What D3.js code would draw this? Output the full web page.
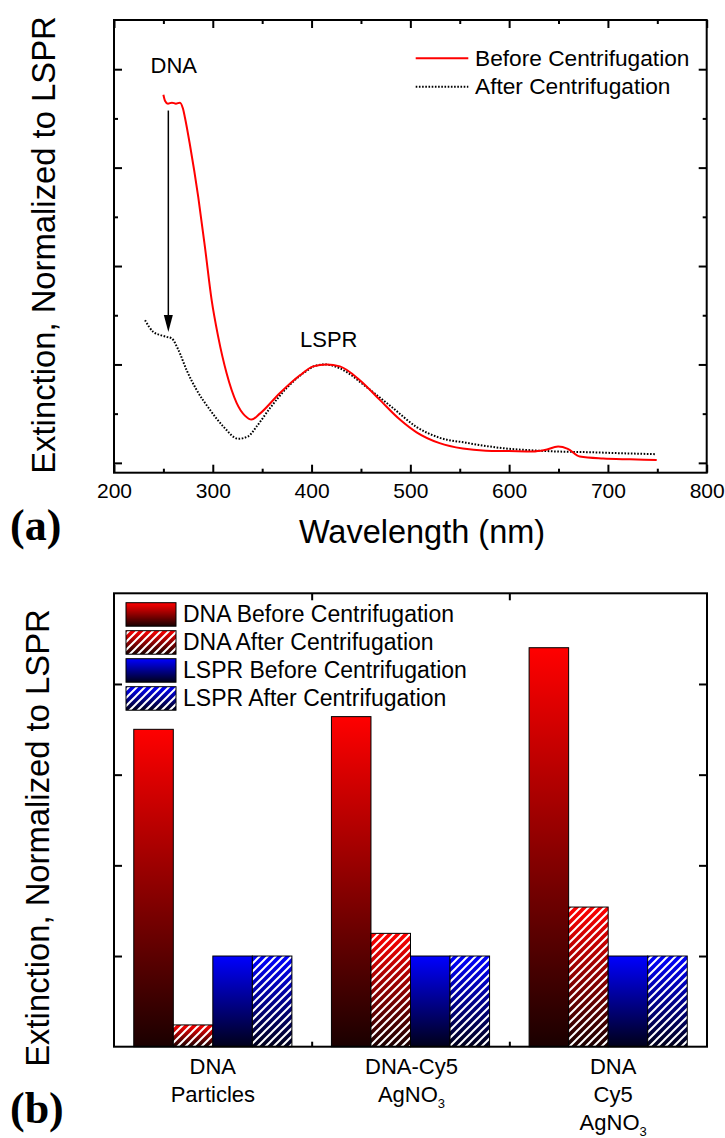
<!DOCTYPE html>
<html><head><meta charset="utf-8">
<script src="https://cdn.jsdelivr.net/npm/d3@7"></script>
<style>
body{margin:0;background:#fff}
svg{display:block}
text{font-family:"Liberation Sans",Arial,sans-serif;fill:#000}
</style>
</head><body>
<svg id="chart" width="725" height="1138"></svg>
<script>
// ---------- Panel (a) data ----------
const wavelengthMajorTicks = [200,300,400,500,600,700,800];
const wavelengthMinorTicks = [250,350,450,550,650,750];
const extinctionMajorTicks = [0,1,2,3,4];
const extinctionMinorTicks = [0.5,1.5,2.5,3.5];

const beforeNm  = [250,251.6,254.6,258.7,262.7,266.8,269.8,271.8,276.9,285.3,292.1,298.9,305.5,314.0,324.1,332.5,339.3,347.7,368.0,388.2,401.7,415.2,428.7,448.9,469.1,489.4,506.3,529.6,553.1,576.4,599.7,623.9,636.1,649.6,659.4,671.5,695.1,722.1,749.4];
const beforeExt = [3.74,3.68,3.65,3.66,3.65,3.66,3.60,3.51,3.23,2.70,2.19,1.65,1.28,0.91,0.61,0.48,0.44,0.50,0.71,0.89,0.98,1.00,0.98,0.84,0.64,0.44,0.31,0.20,0.145,0.124,0.120,0.115,0.130,0.165,0.142,0.064,0.044,0.036,0.030];

const afterNm  = [231.4,239.8,246.5,253.3,258.4,265.1,273.6,283.7,297.1,310.6,325.8,335.9,344.4,357.8,374.7,391.5,405.1,413.5,428.7,455.7,482.6,506.3,529.6,556,593.9,627.7,649.6,678.3,712,749.1];
const afterExt = [1.45,1.33,1.30,1.28,1.265,1.15,0.94,0.74,0.54,0.37,0.245,0.27,0.37,0.555,0.76,0.91,0.99,1.00,0.96,0.77,0.555,0.365,0.255,0.205,0.149,0.125,0.115,0.109,0.098,0.088];

const legendA = ["Before Centrifugation","After Centrifugation"];
const arrowNm = 255, arrowFrom = 3.58, arrowTo = 1.33;

// ---------- Panel (b) data ----------
const categories = [["DNA","Particles"],["DNA-Cy5","AgNO3"],["DNA","Cy5","AgNO3"]];
const seriesNames = ["DNA Before Centrifugation","DNA After Centrifugation","LSPR Before Centrifugation","LSPR After Centrifugation"];
const dnaBefore  = [3.50,3.64,4.40];
const dnaAfter   = [0.24,1.25,1.54];
const lsprBefore = [1.00,1.00,1.00];
const lsprAfter  = [1.00,1.00,1.00];
const barMajorTicks = [1,2,3,4];

// ---------- drawing ----------
const svg = d3.select("#chart");
const defs = svg.append("defs");

function grad(id, top, bottom){
  const g = defs.append("linearGradient").attr("id",id).attr("x1",0).attr("y1",0).attr("x2",0).attr("y2",1);
  g.append("stop").attr("offset","0%").attr("stop-color",top);
  g.append("stop").attr("offset","100%").attr("stop-color",bottom);
}
grad("redGrad","#ff0000","#1a0000");
grad("blueGrad","#0000ff","#00001a");
const pat = defs.append("pattern").attr("id","hatch").attr("patternUnits","userSpaceOnUse")
  .attr("width",8).attr("height",8);
pat.append("path").attr("d","M-2,2 L2,-2 M0,8 L8,0 M6,10 L10,6")
  .attr("stroke","#fff").attr("stroke-width",2);

function styleAxis(g, labels){
  g.select(".domain").remove();
  g.selectAll(".tick line").attr("stroke","#000").attr("stroke-width",2);
  if(!labels) g.selectAll(".tick text").remove();
}

// ===== Panel (a) =====
const ax = {l:114, r:706.7, t:20, b:472.7};
const x = d3.scaleLinear().domain([200,800]).range([ax.l, ax.r]);
const y = d3.scaleLinear().domain([-0.1,4.5]).range([ax.b, ax.t]);

const gA = svg.append("g");
// axes
gA.append("g").attr("transform",`translate(0,${ax.b})`)
  .call(d3.axisBottom(x).tickValues(wavelengthMajorTicks).tickSize(-8).tickPadding(10))
  .call(g=>styleAxis(g,true))
  .call(g=>g.selectAll(".tick text").attr("font-size",21).attr("font-family","Liberation Sans, Arial, sans-serif"));
gA.append("g").attr("transform",`translate(0,${ax.b})`)
  .call(d3.axisBottom(x).tickValues(wavelengthMinorTicks).tickSize(-4)).call(g=>styleAxis(g,false));
gA.append("g").attr("transform",`translate(0,${ax.t})`)
  .call(d3.axisTop(x).tickValues(wavelengthMajorTicks).tickSize(-8)).call(g=>styleAxis(g,false));
gA.append("g").attr("transform",`translate(0,${ax.t})`)
  .call(d3.axisTop(x).tickValues(wavelengthMinorTicks).tickSize(-4)).call(g=>styleAxis(g,false));
gA.append("g").attr("transform",`translate(${ax.l},0)`)
  .call(d3.axisLeft(y).tickValues(extinctionMajorTicks).tickSize(-8)).call(g=>styleAxis(g,false));
gA.append("g").attr("transform",`translate(${ax.l},0)`)
  .call(d3.axisLeft(y).tickValues(extinctionMinorTicks).tickSize(-4)).call(g=>styleAxis(g,false));
gA.append("g").attr("transform",`translate(${ax.r},0)`)
  .call(d3.axisRight(y).tickValues(extinctionMajorTicks).tickSize(-8)).call(g=>styleAxis(g,false));
gA.append("g").attr("transform",`translate(${ax.r},0)`)
  .call(d3.axisRight(y).tickValues(extinctionMinorTicks).tickSize(-4)).call(g=>styleAxis(g,false));

gA.append("rect").attr("x",ax.l).attr("y",ax.t).attr("width",ax.r-ax.l).attr("height",ax.b-ax.t)
  .attr("fill","none").attr("stroke","#000").attr("stroke-width",2);

const line = d3.line().x(d=>x(d[0])).y(d=>y(d[1])).curve(d3.curveMonotoneX);
gA.append("path").datum(afterNm.map((v,i)=>[v,afterExt[i]])).attr("d",line)
  .attr("fill","none").attr("stroke","#000").attr("stroke-width",2).attr("stroke-dasharray","1.6,1.6");
gA.append("path").datum(beforeNm.map((v,i)=>[v,beforeExt[i]])).attr("d",line)
  .attr("fill","none").attr("stroke","#ff0000").attr("stroke-width",2);

// arrow
const axp = x(arrowNm), ay1 = y(arrowFrom), ay2 = y(arrowTo);
gA.append("line").attr("x1",axp).attr("x2",axp).attr("y1",ay1).attr("y2",ay2-14)
  .attr("stroke","#000").attr("stroke-width",1.5);
gA.append("path").attr("d",`M${axp-4.5},${ay2-17} L${axp+4.5},${ay2-17} L${axp},${ay2} Z`).attr("fill","#000");

gA.append("text").attr("x",150.5).attr("y",73).attr("font-size",22).text("DNA");
gA.append("text").attr("x",300).attr("y",346.7).attr("font-size",22).text("LSPR");

// legend a
const legA = gA.append("g");
legA.append("line").attr("x1",415.7).attr("x2",468.3).attr("y1",58.3).attr("y2",58.3).attr("stroke","#ff0000").attr("stroke-width",2);
legA.append("line").attr("x1",415.7).attr("x2",468.3).attr("y1",86.7).attr("y2",86.7).attr("stroke","#000").attr("stroke-width",2).attr("stroke-dasharray","1.6,1.6");
legA.selectAll("text.lg").data(legendA).join("text").attr("class","lg")
  .attr("x",475).attr("y",(d,i)=>66+28.3*i).attr("font-size",22.7).text(d=>d);

gA.append("text").attr("x",422).attr("y",543).attr("text-anchor","middle").attr("font-size",32.5).text("Wavelength (nm)");
gA.append("text").attr("transform","translate(54.5,245) rotate(-90)").attr("text-anchor","middle").attr("font-size",32.8)
  .text("Extinction, Normalized to LSPR");
svg.append("text").attr("x",10).attr("y",539.5).attr("font-size",44).attr("font-weight","bold")
  .style("font-family","'Liberation Serif','Times New Roman',serif").text("(a)");

// ===== Panel (b) =====
const bx = {l:114, r:707, t:593.3, b:1046.7};
const yb = d3.scaleLinear().domain([0,5]).range([bx.b, bx.t]);
const xb = d3.scaleBand().domain(d3.range(categories.length)).range([bx.l,bx.r]).paddingInner(0.2).paddingOuter(0.1);
const xs = d3.scaleBand().domain(d3.range(seriesNames.length)).range([0,xb.bandwidth()]);
const xEdge = d3.scaleLinear().domain([0,categories.length]).range([bx.l,bx.r]);

const series = [
  {vals:dnaBefore, fill:"url(#redGrad)", hatch:false},
  {vals:dnaAfter, fill:"url(#redGrad)", hatch:true},
  {vals:lsprBefore, fill:"url(#blueGrad)", hatch:false},
  {vals:lsprAfter, fill:"url(#blueGrad)", hatch:true}
];

const gB = svg.append("g");
series.forEach((s,si)=>{
  s.vals.forEach((v,ci)=>{
    const rx = xb(ci)+xs(si), ry = yb(v), w = xs.bandwidth(), h = yb(0)-yb(v);
    gB.append("rect").attr("x",rx).attr("y",ry).attr("width",w).attr("height",h).attr("fill",s.fill);
    if(s.hatch) gB.append("rect").attr("x",rx).attr("y",ry).attr("width",w).attr("height",h).attr("fill","url(#hatch)");
    gB.append("rect").attr("x",rx).attr("y",ry).attr("width",w).attr("height",h).attr("fill","none")
      .attr("stroke","#000").attr("stroke-width",1);
  });
});

gB.append("g").attr("transform",`translate(${bx.l},0)`)
  .call(d3.axisLeft(yb).tickValues(barMajorTicks).tickSize(-8)).call(g=>styleAxis(g,false));
gB.append("g").attr("transform",`translate(${bx.r},0)`)
  .call(d3.axisRight(yb).tickValues(barMajorTicks).tickSize(-8)).call(g=>styleAxis(g,false));
gB.append("g").attr("transform",`translate(0,${bx.t})`)
  .call(d3.axisTop(xEdge).tickValues([1,2]).tickSize(-7)).call(g=>styleAxis(g,false));
gB.append("g").attr("transform",`translate(0,${bx.b})`)
  .call(d3.axisBottom(xEdge).tickValues([1,2]).tickSize(-5)).call(g=>styleAxis(g,false));

gB.append("rect").attr("x",bx.l).attr("y",bx.t).attr("width",bx.r-bx.l).attr("height",bx.b-bx.t)
  .attr("fill","none").attr("stroke","#000").attr("stroke-width",2);

// category labels
const catShift = [0,1,5];
categories.forEach((lines,ci)=>{
  const cx = xb(ci)+xb.bandwidth()/2 + catShift[ci];
  lines.forEach((ln,k)=>{
    const t = gB.append("text").attr("x",cx).attr("y",1074+28*k).attr("text-anchor","middle").attr("font-size",22);
    const m = ln.match(/^(.*NO)(3)$/);
    if(m){
      t.append("tspan").text(m[1]);
      t.append("tspan").attr("font-size",13).attr("dy",6).text(m[2]);
    } else t.text(ln);
  });
});

// legend b
const legB = gB.append("g");
series.forEach((s,i)=>{
  const ly = 602.7+28*i;
  legB.append("rect").attr("x",126).attr("y",ly).attr("width",50).attr("height",23.5).attr("fill",s.fill);
  if(s.hatch) legB.append("rect").attr("x",126).attr("y",ly).attr("width",50).attr("height",23.5).attr("fill","url(#hatch)");
  legB.append("rect").attr("x",126).attr("y",ly).attr("width",50).attr("height",23.5).attr("fill","none").attr("stroke","#000").attr("stroke-width",1);
  legB.append("text").attr("x",183).attr("y",ly+19.5).attr("font-size",23).text(seriesNames[i]);
});

gB.append("text").attr("transform","translate(48.5,838) rotate(-90)").attr("text-anchor","middle").attr("font-size",32.8)
  .text("Extinction, Normalized to LSPR");
svg.append("text").attr("x",10).attr("y",1122.5).attr("font-size",44).attr("font-weight","bold")
  .style("font-family","'Liberation Serif','Times New Roman',serif").text("(b)");
</script>
</body></html>
